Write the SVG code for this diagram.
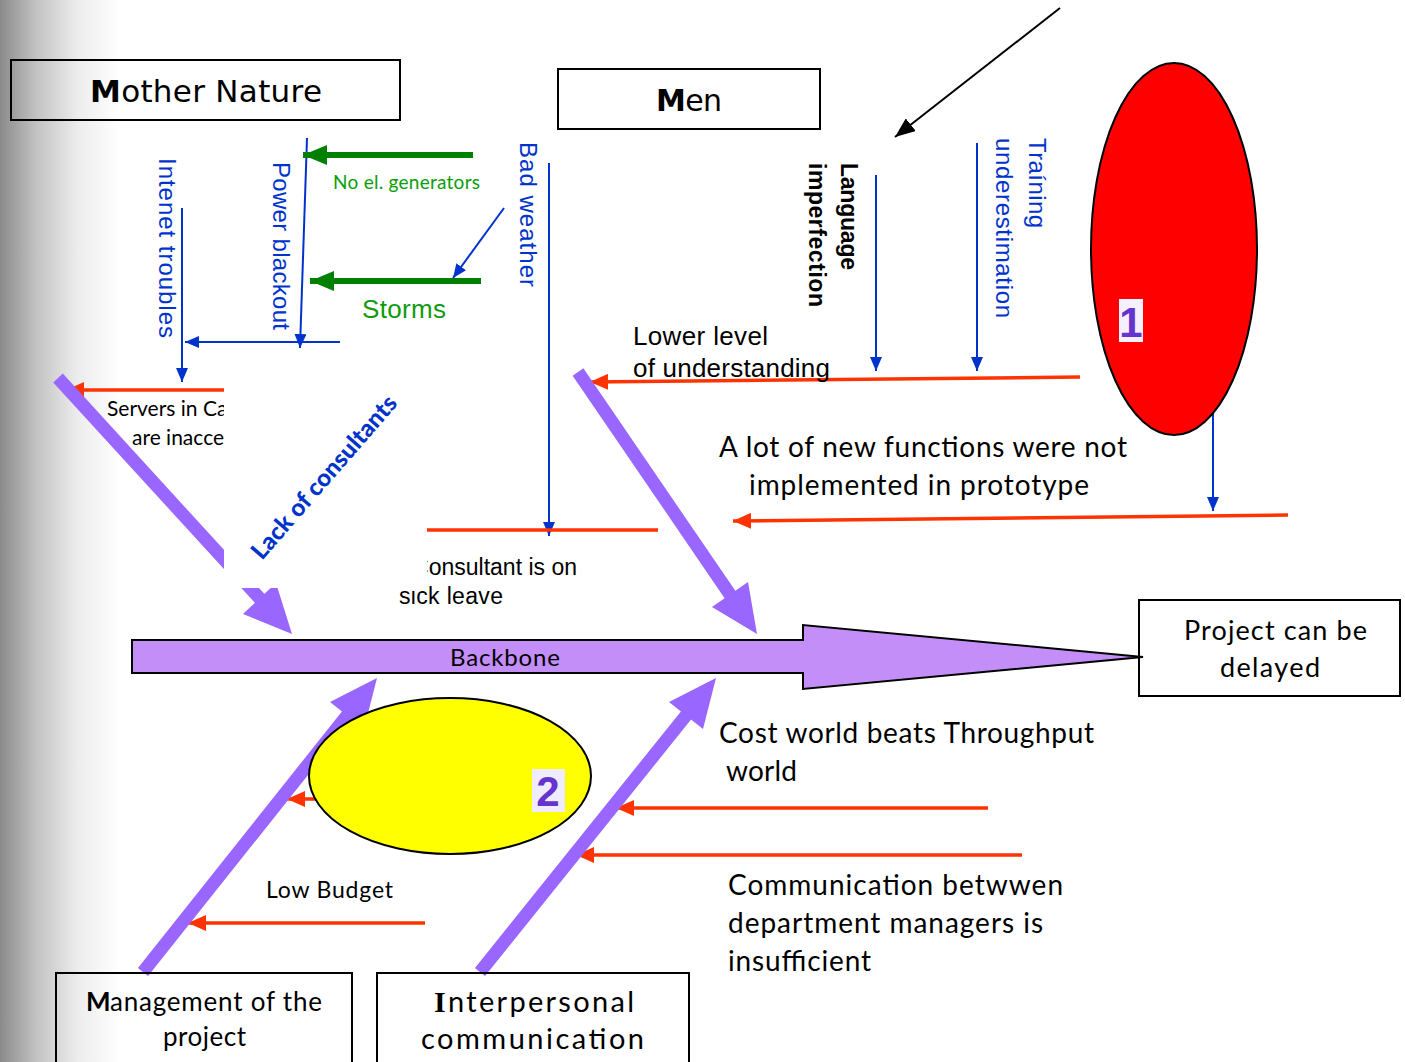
<svg xmlns="http://www.w3.org/2000/svg" width="1405" height="1062" viewBox="0 0 1405 1062">
<defs>
<linearGradient id="bg" x1="0" y1="0" x2="1" y2="0">
<stop offset="0" stop-color="#8a8a8a"/>
<stop offset="0.3" stop-color="#c2c2c2"/>
<stop offset="0.65" stop-color="#ededed"/>
<stop offset="1" stop-color="#ffffff"/>
</linearGradient>
<marker id="mb" markerUnits="userSpaceOnUse" markerWidth="14" markerHeight="12" refX="14" refY="6" orient="auto"><path d="M0,0 L14,6 L0,12 z" fill="#0033cc"/></marker>
<marker id="mr" markerUnits="userSpaceOnUse" markerWidth="18" markerHeight="16" refX="18" refY="8" orient="auto"><path d="M0,0 L18,8 L0,16 z" fill="#ff3300"/></marker>
<marker id="mg" markerUnits="userSpaceOnUse" markerWidth="24" markerHeight="20" refX="24" refY="10" orient="auto"><path d="M0,0 L24,10 L0,20 z" fill="#008000"/></marker>
<marker id="mk" markerUnits="userSpaceOnUse" markerWidth="20" markerHeight="16" refX="20" refY="8" orient="auto"><path d="M0,0 L20,8 L0,16 z" fill="#000"/></marker>
</defs>
<style>
.box{fill:none;stroke:#000;stroke-width:2}
.blue{stroke:#0033cc;stroke-width:2;fill:none}
.red{stroke:#ff3300;stroke-width:3.5;fill:none}
.green{stroke:#008000;stroke-width:6;fill:none}
.purple{stroke:#9966ff;stroke-width:13;fill:none}
.ph{fill:#9966ff}
.dv{font-family:"DejaVu Sans",sans-serif;fill:#000}
.ar{font-family:"Liberation Sans",Arial,sans-serif}
.cb{font-family:Lato,"Liberation Sans",sans-serif;fill:#000}
.bt{fill:#0033cc}
.lbl{font-family:"Liberation Sans",Arial,sans-serif;font-weight:bold;fill:#6633cc}
</style>
<rect width="1405" height="1062" fill="#fff"/>
<rect width="120" height="1062" fill="url(#bg)"/>

<g id="connectors">
<line class="blue" x1="307" y1="138" x2="300" y2="348" marker-end="url(#mb)"/>
<line class="blue" x1="340" y1="342" x2="185" y2="342" marker-end="url(#mb)"/>
<line class="blue" x1="182" y1="208" x2="182" y2="382" marker-end="url(#mb)"/>
<line class="green" x1="473" y1="155" x2="303" y2="155" marker-end="url(#mg)"/>
<line class="green" x1="481" y1="281" x2="310" y2="281" marker-end="url(#mg)"/>
<line class="blue" x1="504" y1="208" x2="453" y2="278" marker-end="url(#mb)"/>
<line class="blue" x1="549" y1="163" x2="549" y2="536" marker-end="url(#mb)"/>
<line class="blue" x1="876" y1="175" x2="876" y2="371" marker-end="url(#mb)"/>
<line class="blue" x1="977" y1="143" x2="977" y2="371" marker-end="url(#mb)"/>
<line class="blue" x1="1213" y1="405" x2="1213" y2="511" marker-end="url(#mb)"/>
<line stroke="#000" stroke-width="2" x1="1060" y1="8" x2="895" y2="137" marker-end="url(#mk)"/>
<line class="red" x1="224" y1="390" x2="66" y2="390" marker-end="url(#mr)"/>
<line class="red" x1="1080" y1="377" x2="590" y2="382" marker-end="url(#mr)"/>
<line class="red" x1="658" y1="530" x2="427" y2="530"/>
<line class="red" x1="1288" y1="515" x2="733" y2="521" marker-end="url(#mr)"/>
<line class="red" x1="340" y1="799" x2="287" y2="799" marker-end="url(#mr)"/>
<line class="red" x1="988" y1="808" x2="616" y2="808" marker-end="url(#mr)"/>
<line class="red" x1="1022" y1="855" x2="576" y2="855" marker-end="url(#mr)"/>
<line class="red" x1="425" y1="923" x2="188" y2="923" marker-end="url(#mr)"/>
<line class="purple" x1="58" y1="378" x2="262" y2="601"/>
<polygon class="ph" points="292,634 243,614 276,583"/>
<line class="purple" x1="578" y1="372" x2="731" y2="596"/>
<polygon class="ph" points="757,634 712,607 748,582"/>
<line class="purple" x1="143" y1="972" x2="349" y2="713"/>
<polygon class="ph" points="377,678 364,729 330,702"/>
<line class="purple" x1="480" y1="972" x2="688" y2="713"/>
<polygon class="ph" points="716,678 703,729 669,702"/>
</g>

<g id="backbone">
<path d="M132,640 L803,640 L803,625 L1143,657 L803,689 L803,673 L132,673 Z" fill="#c38ef8" stroke="#000" stroke-width="2"/>
<text class="cb" x="450" y="666" font-size="24" textLength="110">Backbone</text>
</g>

<g id="mother-nature">
<rect class="box" x="11" y="60" width="389" height="60"/>
<text class="dv" x="90" y="102" font-size="31" textLength="232"><tspan font-weight="bold">M</tspan>other Nature</text>
</g>

<g id="men">
<rect class="box" x="558" y="69" width="262" height="60"/>
<text class="dv" x="656" y="111" font-size="30" textLength="66"><tspan font-weight="bold">M</tspan>en</text>
</g>

<g id="internet-troubles"><text class="ar bt" font-size="24" transform="translate(159,158) rotate(90)" textLength="180">Intenet  troubles</text></g>
<g id="power-blackout"><text class="ar bt" font-size="24" transform="translate(273,162) rotate(90)" textLength="168">Power blackout</text></g>
<g id="no-generators"><text class="cb" style="fill:#0a9e0a" x="333" y="189" font-size="19" textLength="147">No el. generators</text></g>
<g id="storms"><text class="ar" fill="#0f9a0f" x="362" y="318" font-size="26" textLength="84">Storms</text></g>
<g id="bad-weather"><text class="ar bt" font-size="24" transform="translate(520,142) rotate(90)" textLength="145">Bad  weather</text></g>
<g id="language"><text class="ar" font-weight="bold" font-size="23" transform="translate(841,163) rotate(90)"><tspan x="0" y="0" textLength="107">Language</tspan><tspan x="0" y="32" textLength="144">imperfection</tspan></text></g>
<g id="training"><text class="ar bt" font-size="24" transform="translate(1029,138) rotate(90)"><tspan x="0" y="0" textLength="90">Traíning</tspan><tspan x="0" y="33" textLength="180">underestimation</tspan></text></g>
<g id="lower-level"><text class="ar" font-size="26"><tspan x="633" y="345" textLength="135">Lower level</tspan><tspan x="633" y="377" textLength="197">of understanding</tspan></text></g>
<g id="servers"><text class="cb" font-size="21"><tspan x="107" y="416">Servers in Ca</tspan><tspan x="132" y="445">are  inacce</tspan></text></g>
<g id="consultant"><text class="ar" font-size="23"><tspan x="577" y="575" text-anchor="end">Consultant  is on</tspan><tspan x="399" y="604" textLength="104">sick leave</tspan></text></g>

<rect x="224" y="355" width="203" height="233" fill="#fff"/>
<g id="lack-of-consultants"><text class="cb" font-weight="900" style="fill:#0033cc" font-size="24" transform="translate(262,561) rotate(-49)" textLength="208">Lack of consultants</text></g>

<g id="functions"><text class="cb" font-size="28"><tspan x="719" y="457" textLength="408">A lot of new functions were not</tspan><tspan x="749" y="495" textLength="340">implemented in prototype</tspan></text></g>

<g id="ellipse-1">
<ellipse cx="1174" cy="249" rx="83" ry="186" fill="#ff0000" stroke="#000" stroke-width="2"/>
<rect x="1119" y="299" width="24" height="43" fill="#f4f0ff"/>
<text class="lbl" x="1131" y="337" font-size="42" text-anchor="middle">1</text>
</g>

<g id="project">
<rect class="box" x="1139" y="600" width="261" height="96"/>
<text class="cb" font-size="27"><tspan x="1184" y="640" textLength="183">Project can be</tspan><tspan x="1220" y="677" textLength="100">delayed</tspan></text>
</g>

<g id="ellipse-2">
<ellipse cx="450" cy="776" rx="141" ry="78" fill="#ffff00" stroke="#000" stroke-width="2"/>
<rect x="532" y="769" width="33" height="43" fill="#f0ecff"/>
<text class="lbl" x="548" y="806" font-size="42" text-anchor="middle">2</text>
</g>

<g id="cost-world"><text class="cb" font-size="28"><tspan x="719" y="743" textLength="375">Cost world beats Throughput</tspan><tspan x="726" y="781" textLength="71">world</tspan></text></g>
<g id="communication"><text class="cb" font-size="28"><tspan x="728" y="895" textLength="335">Communication betwwen</tspan><tspan x="728" y="933" textLength="315">department managers is</tspan><tspan x="728" y="971" textLength="143">insufficient</tspan></text></g>
<g id="low-budget"><text class="cb" x="266" y="898" font-size="23" textLength="127">Low Budget</text></g>

<g id="management">
<rect class="box" x="56" y="973" width="296" height="100"/>
<text class="cb" font-size="26" x="86" y="1011" font-weight="bold">M</text>
<text class="cb" font-size="26" x="110" y="1011" textLength="212">anagement of the</text>
<text class="cb" font-size="26" x="163" y="1046" textLength="83">project</text>
</g>

<g id="interpersonal">
<rect class="box" x="377" y="973" width="312" height="100"/>
<text x="434" y="1012" font-size="30" font-family="Liberation Serif, serif" font-weight="bold">I</text>
<text class="cb" font-size="29" x="448" y="1012" textLength="186">nterpersonal</text>
<text class="cb" font-size="29" x="421" y="1049" textLength="223">communication</text>
</g>
</svg>
